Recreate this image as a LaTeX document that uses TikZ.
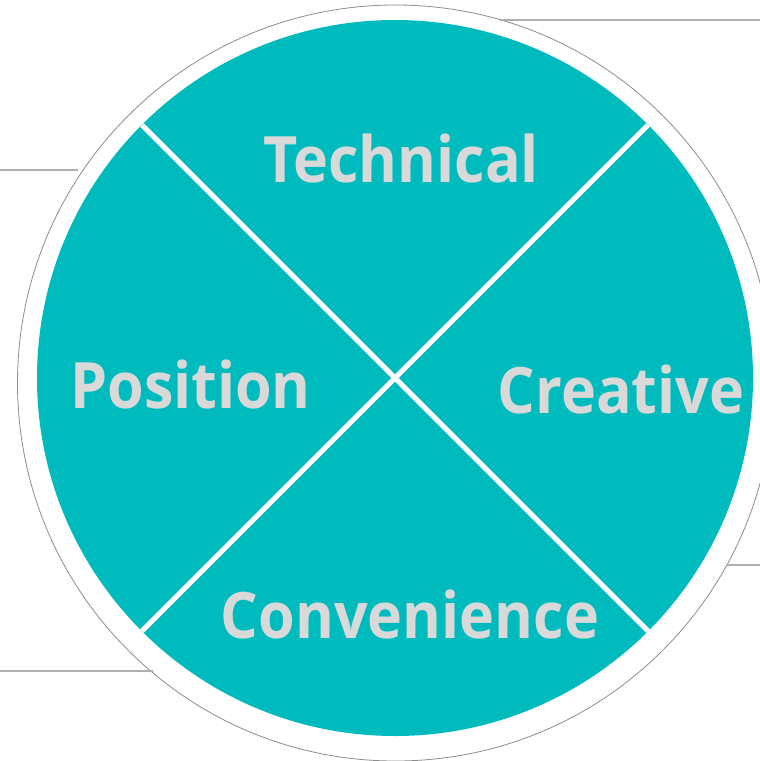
\documentclass[tikz,border=0pt]{standalone}
\usepackage{fontspec}
\setmainfont{Open Sans}
\usepackage{xcolor}
\usepackage{graphicx}
\usetikzlibrary{positioning, calc}

\definecolor{quadteal}{HTML}{00BBBD}
\definecolor{quadtext}{HTML}{D9D9D9}
\definecolor{rulegray}{HTML}{AFAFAF}
\definecolor{ringgray}{HTML}{8C8C8C}

% narrower setting of the bold labels
\newcommand{\quadword}[1]{\scalebox{0.925}[1]{#1}}

\begin{document}
\begin{tikzpicture}[
    x=1pt, y=-1pt,
    quadlabel/.style={inner sep=0pt, anchor=base, text=quadtext, font=\fontsize{64}{64}\selectfont\bfseries},
    divider/.style={white, line width=5pt},
    ring/.style={draw=ringgray, line width=0.8pt},
    sideline/.style={rulegray, line width=2pt}
]
\useasboundingbox (0,0) rectangle (760,761);
\clip (0,0) rectangle (760,761);

% Outer ring and disc
\coordinate (ringc) at (395.5,383);
\coordinate (discc) at (395,378);
\draw [ring] (ringc) circle (378);
\fill [quadteal] (discc) circle (358);

% Dividers
\draw [divider] ($(discc)+(-253,-253)$) -- ($(discc)+(253,253)$);
\draw [divider] ($(discc)+(253,-253)$) -- ($(discc)+(-253,253)$);

% Side rules
\coordinate (ruleA) at (500,20);
\coordinate (ruleB) at (78,169.5);
\coordinate (ruleC) at (727,565);
\coordinate (ruleD) at (153,670.5);
\draw [sideline] (ruleA) -- (760,20);
\draw [sideline] (0,169.5) -- (ruleB);
\draw [sideline] (ruleC) -- (760,565);
\draw [sideline] (0,670.5) -- (ruleD);

% Labels
\node (technical) [quadlabel] at (401,182) {\quadword{Technical}};
\node (position) [quadlabel] at (190.5,408) {\quadword{Position}};
\node (creative) [quadlabel] at (621,413) {\quadword{Creative}};
\node (convenience) [quadlabel] at (410,638) {\quadword{Convenience}};

\end{tikzpicture}
\end{document}
